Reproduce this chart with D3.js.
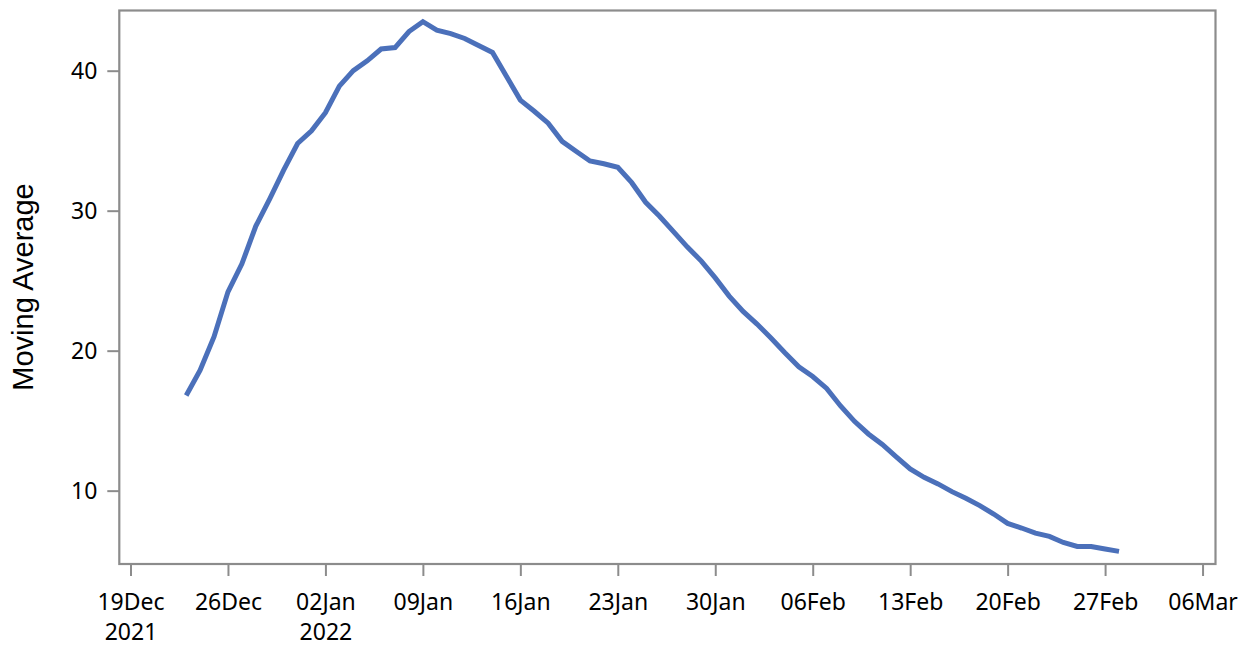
<!DOCTYPE html>
<html>
<head>
<meta charset="utf-8">
<script src="https://cdn.jsdelivr.net/npm/d3@7"></script>
<style>
  html, body { margin: 0; padding: 0; background: #fff; }
  svg { display: block; }
</style>
</head>
<body>
<svg id="chart" width="1250" height="648"></svg>
<script>
const startDate = "2021-12-23";
const values = [
  16.8, 18.6, 21.0, 24.2, 26.2, 28.9, 30.85, 32.9, 34.8,
  35.7, 37.0, 38.9, 40.0, 40.7, 41.55, 41.65, 42.8, 43.5, 42.9, 42.65,
  42.3, 41.8, 41.3, 39.6, 37.9, 37.1, 36.25, 34.95, 34.25, 33.55,
  33.35, 33.1, 32.0, 30.6, 29.6, 28.5, 27.4, 26.4, 25.2, 23.9,
  22.8, 21.9, 20.9, 19.85, 18.85, 18.15, 17.3, 16.05, 14.95, 14.05,
  13.3, 12.42, 11.55, 10.95, 10.48, 9.93, 9.45, 8.93, 8.33, 7.66,
  7.33, 6.97, 6.73, 6.3, 6.01, 6.01, 5.83, 5.66
];
const xTickDates = ["2021-12-19","2021-12-26","2022-01-02","2022-01-09","2022-01-16","2022-01-23",
  "2022-01-30","2022-02-06","2022-02-13","2022-02-20","2022-02-27","2022-03-06"];
const xTickLabels = ["19Dec","26Dec","02Jan","09Jan","16Jan","23Jan","30Jan","06Feb","13Feb","20Feb","27Feb","06Mar"];
const xTickYears = ["2021","","2022","","","","","","","","",""];
const yTicks = [10, 20, 30, 40];
const yTitle = "Moving Average";

(function () {
const parse = d3.utcParse("%Y-%m-%d");
const DAY = 86400000;
const t0 = parse(startDate);
const data = values.map((v, i) => ({ date: new Date(t0.getTime() + i * DAY), value: v }));
const tickDates = xTickDates.map(parse);

const svg = d3.select("#chart");

const x = d3.scaleUtc()
  .domain([new Date(tickDates[0].getTime() - 0.805 * DAY), new Date(tickDates[tickDates.length - 1].getTime() + 0.93 * DAY)])
  .range([119.3, 1215.5]);
const y = d3.scaleLinear().domain([4.76, 44.3]).range([564, 10.5]);

const pLeft = x.range()[0], pRight = x.range()[1];
const pTop = y.range()[1], pBottom = y.range()[0];

const axisColor = "#8c8c8c";
const tickFont = "'Noto Sans', 'DejaVu Sans', sans-serif";

// x axis
const xAxis = svg.append("g")
  .attr("transform", `translate(0,${pBottom})`)
  .call(d3.axisBottom(x).tickValues(tickDates).tickSize(12).tickFormat(""));
xAxis.select(".domain").remove();
xAxis.selectAll(".tick line").attr("stroke", axisColor).attr("stroke-width", 2);
xAxis.selectAll(".tick").each(function(d, i) {
  const g = d3.select(this);
  g.select("text").remove();
  const t = g.append("text")
    .attr("text-anchor", "middle")
    .attr("fill", "#000")
    .style("font-family", tickFont)
    .style("font-size", "23px");
  t.append("tspan").attr("x", 0).attr("y", 46).text(xTickLabels[i]);
  if (xTickYears[i]) t.append("tspan").attr("x", 0).attr("y", 76).text(xTickYears[i]);
});

// y axis
const yAxis = svg.append("g")
  .attr("transform", `translate(${pLeft},0)`)
  .call(d3.axisLeft(y).tickValues(yTicks).tickSize(12).tickPadding(10).tickFormat(d3.format("d")));
yAxis.select(".domain").remove();
yAxis.selectAll(".tick line").attr("stroke", axisColor).attr("stroke-width", 2);
yAxis.selectAll(".tick text")
  .attr("fill", "#000")
  .style("font-family", tickFont)
  .style("font-size", "23px");

// frame
svg.append("rect")
  .attr("x", pLeft).attr("y", pTop)
  .attr("width", pRight - pLeft).attr("height", pBottom - pTop)
  .attr("fill", "none").attr("stroke", axisColor).attr("stroke-width", 2.2);

// line
const line = d3.line().x(d => x(d.date)).y(d => y(d.value));
svg.append("path")
  .datum(data)
  .attr("fill", "none")
  .attr("stroke", "#4b70ba")
  .attr("stroke-width", 5)
  .attr("stroke-linejoin", "miter")
  .attr("d", line);

// y title
svg.append("text")
  .attr("transform", `translate(33,287) rotate(-90)`)
  .attr("text-anchor", "middle")
  .attr("fill", "#000")
  .style("font-family", "'Liberation Sans', Arial, sans-serif")
  .style("font-size", "29px")
  .text(yTitle);
})();
</script>
</body>
</html>
